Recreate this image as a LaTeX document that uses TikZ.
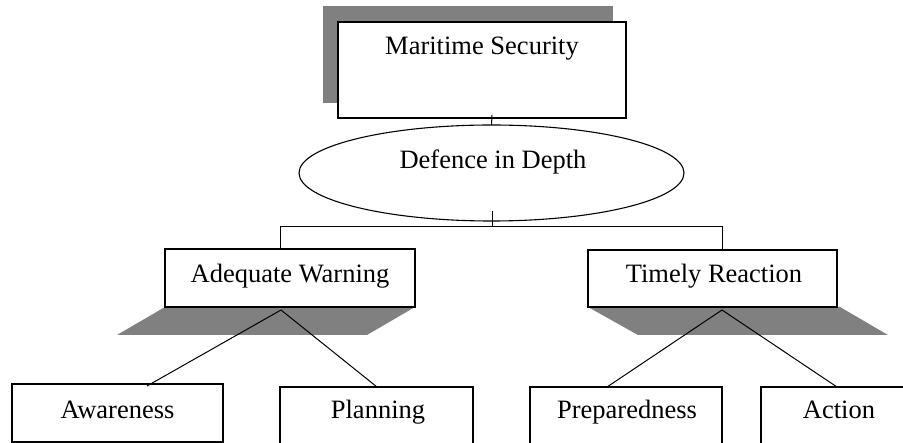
\documentclass[tikz,border=0pt]{standalone}
\usepackage{fontspec}
\setmainfont{Liberation Serif}
\usetikzlibrary{shapes.geometric}
\definecolor{shadowgray}{RGB}{128,128,128}
\tikzset{
  boxnode/.style={draw=black, fill=white, line width=1.1pt, rectangle, inner sep=0pt, outer sep=0pt},
  labeltext/.style={anchor=base, inner sep=0pt, font=\fontsize{26.5}{32}\selectfont},
  shadowfill/.style={fill=shadowgray, draw=none},
  conn/.style={draw=black, line width=1pt},
}
\begin{document}
\begin{tikzpicture}[x=1pt, y=-1pt]
\useasboundingbox (0,0) rectangle (903,443);
\clip (0,0) rectangle (903,443);
% shadows
\fill[shadowfill] (323,6) rectangle (613,103);
\fill[shadowfill] (165,307) -- (415,307) -- (367,335) -- (117,335) -- cycle;
\fill[shadowfill] (588,307) -- (840,307) -- (888,335) -- (638,335) -- cycle;
% Maritime Security
\node[boxnode, minimum width=288pt, minimum height=96pt] (ms) at (482,70) {};
\node[labeltext] (mst) at (482,55) {Maritime Security};
% Defence in Depth
\node[draw=black, fill=white, line width=1.1pt, ellipse, minimum width=385pt, minimum height=96pt, inner sep=0pt, outer sep=0pt] (did) at (491.5,173) {};
\node[labeltext] (didt) at (493,169) {Defence in Depth};
% second level
\node[boxnode, minimum width=250pt, minimum height=58pt] (aw) at (290,278) {};
\node[labeltext] (awt) at (290,283) {Adequate Warning};
\node[boxnode, minimum width=249pt, minimum height=57pt] (tr) at (712.5,278.5) {};
\node[labeltext] (trt) at (714,283) {Timely Reaction};
% third level
\node[boxnode, minimum width=211pt, minimum height=58pt] (awr) at (117.5,413) {};
\node[labeltext] (awrt) at (117.5,419) {Awareness};
\node[boxnode, minimum width=193pt, minimum height=73pt] (pl) at (376.5,423.5) {};
\node[labeltext] (plt) at (378,419) {Planning};
\node[boxnode, minimum width=192pt, minimum height=73pt] (pr) at (626,423.5) {};
\node[labeltext] (prt) at (627,419) {Preparedness};
\node[boxnode, minimum width=156pt, minimum height=73pt] (ac) at (839,423.5) {};
\node[labeltext] (act) at (839,419) {Action};
% connector points
\coordinate (msb) at (492,115);
\coordinate (didb) at (492,211);
\coordinate (hub) at (492,227);
\coordinate (awtop) at (280,249);
\coordinate (trtop) at (722,250);
\coordinate (awap) at (281,310);
\coordinate (trap) at (722,310);
\coordinate (awrn) at (147,386);
\coordinate (pln) at (377,387);
\coordinate (prn) at (607,387);
\coordinate (acn) at (837,387);
% connectors
\draw[conn] (msb) -- (did.north);
\draw[conn] (didb) -- (hub);
\draw[conn] (awtop) -- (awtop |- hub) -- (trtop |- hub) -- (trtop);
\draw[conn] (awrn) -- (awap) -- (pln);
\draw[conn] (prn) -- (trap) -- (acn);
\end{tikzpicture}
\end{document}
